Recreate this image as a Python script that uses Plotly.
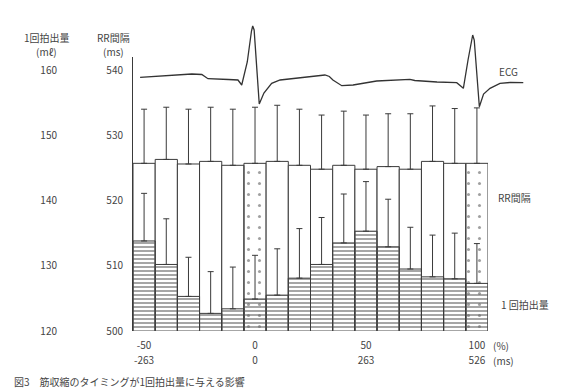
import plotly.graph_objects as go

# ---------------- data ----------------
timing_pct = [-50, -40, -30, -20, -10, 0, 10, 20, 30, 40, 50, 60, 70, 80, 90, 100]
rr_mean = [525.7, 526.3, 525.6, 526.0, 525.4, 525.7, 526.0, 525.4,
           524.8, 525.4, 524.8, 525.2, 524.8, 526.0, 525.7, 525.7]
rr_upper = [534.0, 534.3, 534.0, 534.3, 534.0, 534.3, 534.6, 534.0,
            533.1, 533.7, 533.1, 533.3, 533.3, 534.5, 534.1, 534.2]
sv_mean = [133.8, 130.2, 125.3, 122.7, 123.4, 124.9, 125.5, 128.1,
           130.2, 133.5, 135.3, 132.9, 129.5, 128.3, 128.0, 127.3]
sv_upper = [141.1, 137.2, 131.3, 129.1, 129.8, 131.6, 132.6, 135.7,
            137.4, 141.0, 142.9, 140.2, 135.9, 134.7, 135.0, 133.4]
control_bar = [False, False, False, False, False, True, False, False,
               False, False, False, False, False, False, False, True]

rr_ticks = [500, 510, 520, 530, 540]
sv_ticks = [120, 130, 140, 150, 160]
x_tickvals = [-50, 0, 50, 100]
x_ticktext_pct = ["-50", "0", "50", "100"]
x_ticktext_ms = ["-263", "0", "263", "526"]

# ECG trace (time in % of RR interval, amplitude in arbitrary units)
ecg_t = [-51.8, -40.0, -28.5, -24.0, -21.2, -12.0, -7.7, -6.0, -3.5, -1.6, -1.05, -0.4,
         0.6, 1.9, 4.0, 7.5, 11.3, 17.0, 23.3, 28.0, 31.5, 33.5, 35.1, 39.1, 44.2,
         54.8, 63.0, 67.5, 69.8, 72.0, 74.4, 82.0, 90.9, 93.9, 96.0, 97.5, 98.1, 98.8,
         99.8, 101.1, 103.0, 105.9, 110.4, 115.0, 120.9]
ecg_v = [1.27, 1.4, 1.6, 1.55, 1.13, 1.05, 1.0, 0.5, 2.8, 5.9, 6.4, 6.0,
         2.5, -1.4, -0.3, 0.67, 1.0, 1.15, 1.27, 1.4, 1.5, 1.35, 1.0, 0.43, 0.5,
         0.9, 1.0, 1.1, 1.07, 0.95, 0.9, 0.8, 0.73, 0.17, 3.0, 5.1, 5.5, 5.0,
         2.0, -1.67, -0.4, 0.17, 0.67, 0.75, 0.73]

# ---------------- layout helpers (reference pixel -> paper) ----------------
OFF = 8  # default page body margin
W, H = 561 - OFF, 392 - OFF
BOTTOM = 331                           # reference pixel of the 500 / 120 baseline
TOP = 20                               # reference pixel of plot-area top
ML, MR = 2, 2
MT = TOP - OFF
MB = H - (BOTTOM - OFF)
PW, PH = W - ML - MR, H - MT - MB


def px(xp):
    return (xp - OFF - ML) / PW


def py(yp):
    return (BOTTOM - yp) / PH


FONT = "Noto Sans CJK JP, Noto Sans, sans-serif"
TXT = "#444"
LINE = "#3a3a3a"

fig = go.Figure()

# RR interval bars (white boxes, dotted for control bars)
fig.add_trace(go.Bar(
    x=timing_pct, y=rr_mean, width=10,
    xaxis="x", yaxis="y",
    marker=dict(color="white", line=dict(color=LINE, width=1),
                pattern=dict(shape=["." if c else "" for c in control_bar],
                             fgcolor="#a0a0a0", size=11, solidity=0.06,
                             fillmode="replace")),
    error_y=dict(type="data", symmetric=False,
                 array=[u - m for u, m in zip(rr_upper, rr_mean)],
                 arrayminus=[0] * len(rr_mean),
                 color=LINE, thickness=1, width=3),
    showlegend=False, hoverinfo="skip",
))

# Stroke volume bars (horizontal hatching)
fig.add_trace(go.Bar(
    x=timing_pct, y=sv_mean, width=10,
    xaxis="x", yaxis="y2",
    marker=dict(color="white", line=dict(color=LINE, width=1),
                pattern=dict(shape="-", fgcolor="#6a6a6a", size=4, solidity=0.3,
                             fillmode="replace")),
    error_y=dict(type="data", symmetric=False,
                 array=[u - m for u, m in zip(sv_upper, sv_mean)],
                 arrayminus=[0] * len(sv_mean),
                 color=LINE, thickness=1, width=3),
    showlegend=False, hoverinfo="skip",
))

# ECG trace
fig.add_trace(go.Scatter(
    x=ecg_t, y=ecg_v, mode="lines", xaxis="x2", yaxis="y3",
    line=dict(color="#333", width=1.3), showlegend=False, hoverinfo="skip",
))

# invisible carrier so the ms tick axis is drawn
fig.add_trace(go.Scatter(
    x=timing_pct, y=rr_mean, mode="markers", xaxis="x3", yaxis="y",
    marker=dict(opacity=0), showlegend=False, hoverinfo="skip",
))

x_scale = (488 - 133) / 160.0  # px per % unit
x2_max = -55 + (530 - 133) / x_scale

fig.update_layout(
    width=W, height=H,
    margin=dict(l=ML, r=MR, t=MT, b=MB),
    paper_bgcolor="white", plot_bgcolor="rgba(0,0,0,0)",
    barmode="overlay",
    font=dict(family=FONT, size=10, color=TXT),
    xaxis=dict(domain=[px(133), px(488)], range=[-55, 105], anchor="y",
               tickvals=x_tickvals, ticktext=x_ticktext_pct, ticks="",
               showgrid=False, zeroline=False, showline=False,
               tickfont=dict(size=10, color=TXT), ticklabelstandoff=7),
    xaxis3=dict(overlaying="x", anchor="y", side="bottom", range=[-55, 105],
                tickvals=x_tickvals, ticktext=x_ticktext_ms, ticks="",
                showgrid=False, zeroline=False, showline=False,
                tickfont=dict(size=10, color=TXT), ticklabelstandoff=22),
    yaxis=dict(domain=[0, py(57)], range=[500, 542], anchor="x",
               tickvals=rr_ticks, ticks="", showgrid=False, zeroline=False,
               showline=True, linecolor=LINE, linewidth=1,
               ticklabelstandoff=7, tickfont=dict(size=10, color=TXT)),
    yaxis2=dict(overlaying="y", anchor="free", position=px(60), side="left",
                range=[120, 162], tickvals=sv_ticks, ticks="",
                showgrid=False, zeroline=False, showline=False,
                ticklabelstandoff=3, tickfont=dict(size=10, color=TXT)),
    xaxis2=dict(domain=[px(133), px(530)], range=[-55, x2_max], anchor="y3",
                visible=False),
    yaxis3=dict(domain=[py(115), py(20)], range=[-2.5, 7.0], anchor="x2",
                visible=False),
)

ann = [
    ("1回拍出量", 47, 37, "center"),
    ("(mℓ)", 46, 51, "center"),
    ("RR間隔", 113, 37, "center"),
    ("(ms)", 113, 51, "center"),
    ("ECG", 497, 71, "left"),
    ("RR間隔", 496, 197, "left"),
    ("1 回拍出量", 499, 304, "left"),
    ("(%)", 491, 345, "left"),
    ("(ms)", 491, 360, "left"),
    ("図3　筋収縮のタイミングが1回拍出量に与える影響", 12, 381, "left"),
]
for text, xp, yp, al in ann:
    fig.add_annotation(text=text, x=px(xp), y=py(yp), xref="paper", yref="paper",
                       xanchor=al, yanchor="middle", showarrow=False,
                       font=dict(family=FONT, size=10, color=TXT))

fig.write_html("out.html")
